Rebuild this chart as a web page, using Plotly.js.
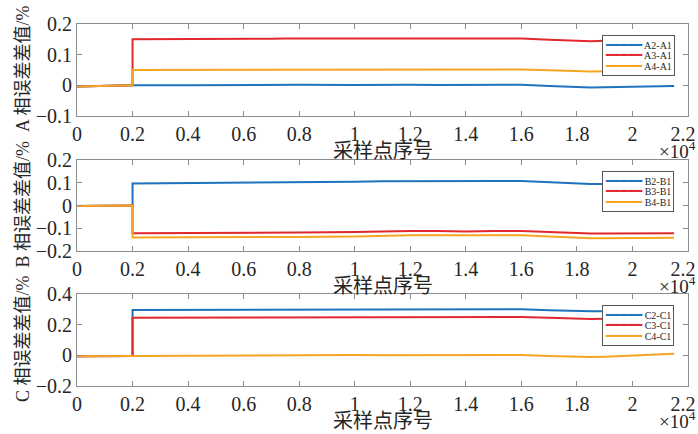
<!DOCTYPE html>
<html>
<head>
<meta charset="utf-8">
<script src="https://cdn.plot.ly/plotly-3.0.1.min.js"></script>
<style>html,body{margin:0;padding:0;background:#fff;} #chart{width:698px;height:434px;}</style>
</head>
<body>
<div id="chart"></div>
<script>
// Sampling point index
var samplePoints = [0, 1000, 2000, 2000, 4000, 5000, 5500, 6000, 7000, 7500, 8000, 10000, 11000, 12000, 13000, 14000, 15000, 16000, 17000, 18000, 18500, 19000, 20000, 21000, 21500];

// Phase A relative error differences (%)
var A2_A1 = [-0.004, -0.002, 0, 0.000, 0.000, 0.001, 0.001, 0.000, 0.001, 0.002, 0.002, 0.001, 0.002, 0.002, 0.001, 0.001, 0.002, 0.002, -0.002, -0.006, -0.007, -0.006, -0.004, -0.003, -0.002];
var A3_A1 = [-0.004, -0.002, 0, 0.150, 0.150, 0.151, 0.151, 0.151, 0.152, 0.153, 0.153, 0.153, 0.154, 0.153, 0.153, 0.153, 0.153, 0.153, 0.149, 0.145, 0.144, 0.145, 0.147, 0.148, 0.148];
var A4_A1 = [-0.004, -0.002, 0, 0.050, 0.050, 0.051, 0.051, 0.050, 0.051, 0.052, 0.052, 0.051, 0.052, 0.051, 0.051, 0.051, 0.052, 0.052, 0.049, 0.046, 0.045, 0.046, 0.047, 0.048, 0.048];

// Phase B
var B2_B1 = [-0.002, -0.001, 0, 0.097, 0.098, 0.099, 0.099, 0.099, 0.100, 0.101, 0.102, 0.104, 0.107, 0.108, 0.108, 0.107, 0.108, 0.108, 0.103, 0.095, 0.094, 0.094, 0.095, 0.096, 0.096];
var B3_B1 = [-0.002, -0.001, 0, -0.122, -0.122, -0.122, -0.121, -0.122, -0.121, -0.120, -0.119, -0.117, -0.114, -0.112, -0.112, -0.114, -0.112, -0.112, -0.117, -0.122, -0.123, -0.123, -0.122, -0.122, -0.122];
var B4_B1 = [-0.002, -0.001, 0, -0.141, -0.141, -0.141, -0.140, -0.141, -0.140, -0.139, -0.138, -0.136, -0.133, -0.131, -0.131, -0.132, -0.131, -0.131, -0.136, -0.143, -0.144, -0.144, -0.143, -0.142, -0.142];

// Phase C
var C2_C1 = [-0.006, -0.005, -0.004, 0.295, 0.296, 0.297, 0.297, 0.297, 0.298, 0.298, 0.299, 0.300, 0.300, 0.300, 0.299, 0.299, 0.300, 0.300, 0.294, 0.288, 0.287, 0.288, 0.289, 0.290, 0.290];
var C3_C1 = [-0.006, -0.005, -0.004, 0.245, 0.246, 0.247, 0.247, 0.247, 0.248, 0.248, 0.249, 0.250, 0.250, 0.250, 0.249, 0.249, 0.250, 0.250, 0.245, 0.238, 0.237, 0.238, 0.239, 0.240, 0.240];
var C4_C1 = [-0.006, -0.005, -0.004, -0.004, -0.003, -0.002, -0.002, -0.001, 0.000, 0.002, 0.003, 0.002, 0.001, 0.001, 0.000, 0.001, 0.002, 0.002, -0.004, -0.009, -0.011, -0.009, -0.002, 0.006, 0.011];

// Tick labels and texts
var xTickVals = [0, 2000, 4000, 6000, 8000, 10000, 12000, 14000, 16000, 18000, 20000, 22000];
var xTickText = ['0', '0.2', '0.4', '0.6', '0.8', '1', '1.2', '1.4', '1.6', '1.8', '2', '2.2\u00a0\u00a0'];
var xTitle = '采样点序号';
var yTitles = ['A 相误差差值/%', 'B 相误差差值/%', 'C 相误差差值/%'];
var names = [['A2-A1', 'A3-A1', 'A4-A1'], ['B2-B1', 'B3-B1', 'B4-B1'], ['C2-C1', 'C3-C1', 'C4-C1']];

var colors = ['#1f72bd', '#e2282c', '#f5a623'];
var serif = 'Liberation Serif, Times New Roman, Noto Sans CJK SC, serif';
var cjkSerif = 'Liberation Serif, Noto Sans CJK SC, serif';

var seriesSets = [[A2_A1, A3_A1, A4_A1], [B2_B1, B3_B1, B4_B1], [C2_C1, C3_C1, C4_C1]];
var traces = [];
for (var p = 0; p < 3; p++) {
  for (var s = 0; s < 3; s++) {
    traces.push({
      x: samplePoints, y: seriesSets[p][s], type: 'scatter', mode: 'lines',
      name: names[p][s], line: {color: colors[s], width: 2},
      xaxis: p === 0 ? 'x' : 'x' + (p + 1), yaxis: p === 0 ? 'y' : 'y' + (p + 1),
      showlegend: false
    });
  }
}

var H = 434, L = 77, W = 611;
function dom(top, bottom) { return [1 - bottom / H, 1 - top / H]; }
var panels = [{top: 24, bottom: 116, range: [-0.1, 0.2], dtick: 0.1},
              {top: 160, bottom: 251, range: [-0.2, 0.2], dtick: 0.1},
              {top: 294, bottom: 386, range: [-0.2, 0.4], dtick: 0.2}];

var layout = {
  width: 698, height: 434,
  margin: {l: L, r: 698 - L - W, t: 0, b: 0},
  paper_bgcolor: '#ffffff', plot_bgcolor: '#ffffff',
  font: {family: serif, color: '#262626'},
  showlegend: false,
  annotations: []
};
var axisCommon = {
  showgrid: false, zeroline: false, showline: true, linecolor: '#8c8c8c', linewidth: 1,
  mirror: 'ticks', ticks: 'inside', ticklen: 5, tickcolor: '#8c8c8c',
  ticklabeloverflow: 'allow', automargin: false,
  tickfont: {family: serif, size: 20, color: '#262626'}
};
for (var i = 0; i < 3; i++) {
  var sx = i === 0 ? '' : String(i + 1);
  var pn = panels[i];
  layout['xaxis' + sx] = Object.assign({}, axisCommon, {
    domain: [0, 1], anchor: 'y' + sx, range: [0, 22000],
    tickmode: 'array', tickvals: xTickVals, ticktext: xTickText
  });
  layout['yaxis' + sx] = Object.assign({}, axisCommon, {
    domain: dom(pn.top, pn.bottom), anchor: 'x' + sx, range: pn.range,
    tickmode: 'linear', tick0: 0, dtick: pn.dtick
  });
  // y-axis title
  layout.annotations.push({
    xref: 'paper', yref: 'paper', x: (23 - L) / W, y: 1 - ((pn.top + pn.bottom) / 2 - 1) / H,
    xanchor: 'center', yanchor: 'middle', showarrow: false, textangle: -90,
    text: yTitles[i], font: {family: cjkSerif, size: 18, color: '#262626'}
  });
  // x-axis title
  layout.annotations.push({
    xref: 'paper', yref: 'paper', x: 0.5, y: 1 - (pn.bottom + 33) / H,
    xanchor: 'center', yanchor: 'middle', showarrow: false,
    text: xTitle, font: {family: 'Noto Sans CJK SC, sans-serif', size: 20, color: '#262626'}
  });
  // exponent
  layout.annotations.push({
    xref: 'paper', yref: 'paper', x: 1, xshift: 10, y: 1 - (pn.bottom + 34) / H,
    xanchor: 'right', yanchor: 'middle', showarrow: false,
    text: '×10<sup>4</sup>', font: {family: serif, size: 19, color: '#262626'}
  });
  // legend box
  var lines = [];
  for (var s2 = 0; s2 < 3; s2++) {
    lines.push('<span style="font-family:DejaVu Sans Mono;font-size:12px;fill:' + colors[s2] + '">━━━━━</span>' +
               '<span style="font-size:10px"> ' + names[i][s2] + '</span>');
  }
  layout.annotations.push({
    xref: 'paper', yref: 'paper', x: (602 - L) / W, y: 1 - (pn.top + 11) / H,
    xanchor: 'left', yanchor: 'top', showarrow: false, align: 'left',
    bgcolor: '#ffffff', bordercolor: '#555555', borderwidth: 1, borderpad: 2,
    text: lines.join('<br>'), font: {family: serif, size: 8, color: '#262626'}
  });
}

Plotly.newPlot('chart', traces, layout, {displayModeBar: false, staticPlot: true});
</script>
</body>
</html>
